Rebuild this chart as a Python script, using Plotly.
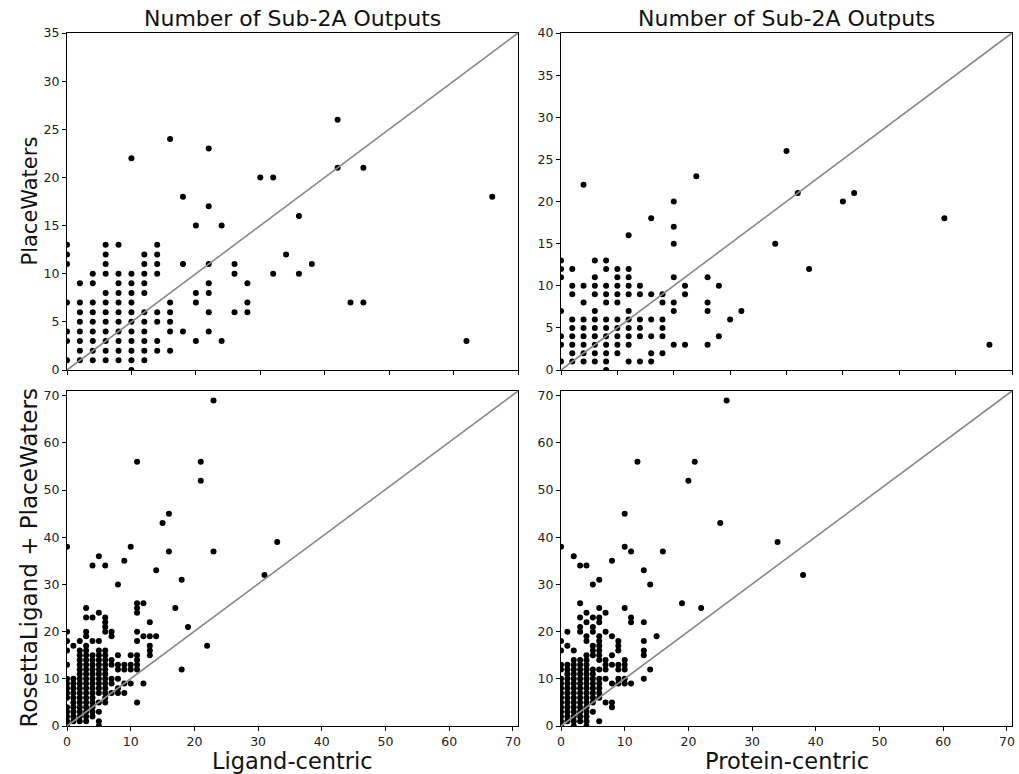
import plotly.graph_objects as go

# ---- data: column x-value -> list of y-values ----
tl_cols = {
    0: [13, 12, 11, 7, 4, 3, 1],
    2: [9, 7, 6, 5, 4, 3, 2, 1],
    4: [10, 9, 7, 6, 5, 4, 3, 2, 1],
    6: [13, 12, 11, 10, 8, 7, 6, 5, 4, 3, 2, 1],
    8: [13, 10, 9, 8, 7, 6, 5, 4, 3, 2, 1],
    10: [22, 10, 9, 8, 7, 6, 5, 4, 3, 2, 1, 0],
    12: [12, 11, 10, 9, 8, 6, 5, 4, 3, 2, 1],
    14: [13, 12, 11, 10, 6, 5, 3, 2],
    16: [24, 7, 6, 5, 4, 2],
    18: [18, 11, 4],
    20: [15, 8, 7, 3],
    22: [23, 17, 11, 9, 8, 6, 4],
    24: [15, 3],
    26: [11, 10, 6],
    28: [9, 7, 6],
    30: [20],
    32: [20, 10],
    34: [12],
    36: [16, 10],
    38: [11],
    42: [26, 21],
    44: [7],
    46: [21, 7],
    62: [3],
    66: [18],
}

tr_cols = {
    0: [13, 12, 11, 7, 4, 3, 1],
    2: [12, 10, 9, 6, 5, 4, 3, 2, 1],
    4: [22, 10, 8, 6, 5, 4, 3, 2, 1],
    6: [13, 11, 10, 9, 7, 6, 5, 4, 3, 2, 1],
    8: [13, 12, 10, 9, 8, 6, 5, 4, 3, 2, 1, 0],
    10: [12, 11, 10, 9, 8, 6, 5, 4, 3, 2],
    12: [16, 12, 11, 10, 9, 7, 6, 5, 4, 3, 1],
    14: [10, 9, 6, 5, 4, 1],
    16: [18, 9, 6, 4, 2, 1],
    18: [9, 8, 6, 5, 4, 2],
    20: [20, 17, 15, 11, 8, 7, 3],
    22: [10, 9, 3],
    24: [23],
    26: [11, 8, 7, 3],
    28: [10, 4],
    30: [6],
    32: [7],
    38: [15],
    40: [26],
    42: [21],
    44: [12],
    50: [20],
    52: [21],
    68: [18],
    76: [3],
}

bl_cols = {
    0: [38, 20, 18, 16, 13, 10, 9, 8, 7, 6, 4, 3, 2, 1, 0],
    1: [17, 10, 9, 8, 7, 6, 5, 4, 3, 2, 1],
    2: [18, 16, 15, 14, 13, 12, 11, 10, 9, 8, 7, 6, 5, 4, 3, 2, 1],
    3: [25, 23, 20, 19, 17, 16, 15, 14, 13, 12, 11, 10, 9, 8, 7, 6, 5, 4, 3, 2, 1],
    4: [34, 23, 18, 15, 14, 13, 12, 11, 10, 9, 8, 7, 6, 5, 4, 3, 2],
    5: [36, 24, 18, 16, 15, 14, 13, 12, 11, 10, 9, 8, 7, 5, 3, 1, 0],
    6: [34, 23, 22, 21, 20, 16, 15, 14, 13, 12, 11, 10, 9, 8, 7, 6, 5],
    7: [20, 19, 14, 13, 10, 9, 7],
    8: [30, 15, 13, 12, 10, 8, 7],
    9: [35, 13, 12, 9, 7],
    10: [38, 15, 13, 12, 9],
    11: [56, 26, 25, 24, 20, 18, 15, 14, 13, 12, 5],
    12: [26, 19, 9],
    13: [22, 19, 17, 16, 15],
    14: [33, 19],
    15: [43],
    16: [45, 37],
    17: [25],
    18: [31, 12],
    19: [21],
    21: [56, 52],
    22: [17],
    23: [69, 37],
    31: [32],
    33: [39],
}

br_cols = {
    0: [38, 18, 16, 13, 12, 10, 9, 8, 7, 6, 5, 4, 3, 2, 1, 0],
    1: [20, 17, 13, 12, 11, 10, 9, 8, 7, 6, 5, 4, 3, 2, 1],
    2: [36, 16, 14, 13, 12, 11, 10, 9, 8, 7, 6, 5, 4, 3, 2, 1, 0],
    3: [34, 26, 23, 21, 20, 14, 13, 12, 11, 10, 9, 8, 7, 6, 5, 4, 3, 2, 1],
    4: [34, 24, 22, 19, 18, 15, 14, 13, 12, 11, 10, 9, 8, 7, 6, 5, 4, 3, 2, 1, 0],
    5: [30, 23, 21, 20, 17, 16, 15, 12, 11, 10, 9, 8, 7, 6, 5, 3],
    6: [31, 25, 23, 22, 19, 18, 17, 16, 15, 14, 12, 10, 9, 8, 7, 6, 1],
    7: [24, 20, 14, 13, 12, 10, 5],
    8: [35, 19, 15, 13, 9, 5, 4],
    9: [18, 17, 16, 13, 12, 10, 9],
    10: [45, 38, 25, 14, 13, 12, 10, 9],
    11: [37, 23, 22, 9],
    12: [56],
    13: [33, 22, 18, 16, 15, 10],
    14: [30, 12],
    15: [19],
    16: [37],
    19: [26],
    20: [52],
    21: [56],
    22: [25],
    25: [43],
    26: [69],
    34: [39],
    38: [32],
}

col_title = "Number of Sub-2A Outputs"
x_titles = ["Ligand-centric", "Protein-centric"]
y_titles = ["PlaceWaters", "RosettaLigand + PlaceWaters"]


def flatten(cols):
    xs, ys = [], []
    for xv, yl in cols.items():
        for yv in yl:
            xs.append(xv)
            ys.append(yv)
    return xs, ys


W, H = 1019, 774
dom_x = [[67 / W, 518 / W], [561 / W, 1012 / W]]
dom_y_top = [1 - 370 / H, 1 - 33 / H]
dom_y_bot = [1 - 726 / H, 1 - 391 / H]

panels = [
    (tl_cols, "x", "y", dom_x[0], dom_y_top, [0, 70], [0, 35], 5, False),
    (tr_cols, "x2", "y2", dom_x[1], dom_y_top, [0, 80], [0, 40], 5, False),
    (bl_cols, "x3", "y3", dom_x[0], dom_y_bot, [0, 70.8], [0, 71], 10, True),
    (br_cols, "x4", "y4", dom_x[1], dom_y_bot, [0, 70.8], [0, 71], 10, True),
]

fig = go.Figure()
font_family = "DejaVu Sans"
shapes = []
for i, (cols, xa, ya, dx, dy, xr, yr, ydt, showx) in enumerate(panels):
    xs, ys = flatten(cols)
    fig.add_trace(go.Scatter(
        x=xs, y=ys, mode="markers", xaxis=xa, yaxis=ya,
        marker=dict(color="black", size=6, line=dict(width=0)),
        cliponaxis=True, showlegend=False, hoverinfo="x+y",
    ))
    suffix = "" if i == 0 else str(i + 1)
    common = dict(showline=True, linecolor="black", linewidth=1, mirror=True,
                  ticks="outside", ticklen=4, tickwidth=1, tickcolor="black",
                  showgrid=False, zeroline=False, automargin=False,
                  tickfont=dict(family=font_family, size=12.5, color="#222222"))
    fig.layout["xaxis" + suffix] = dict(domain=dx, range=xr, dtick=10, tick0=0,
                                        showticklabels=showx,
                                        anchor="y" + suffix, **common)
    fig.layout["yaxis" + suffix] = dict(domain=dy, range=yr, dtick=ydt, tick0=0,
                                        anchor="x" + suffix, **common)
    shapes.append(dict(type="line", xref=xa + " domain", yref=ya + " domain",
                       x0=0, y0=0, x1=1, y1=1,
                       line=dict(color="#8a8a8a", width=1.6), layer="above"))

annotations = []
for j in range(2):
    cx = (dom_x[j][0] + dom_x[j][1]) / 2
    annotations.append(dict(text=col_title, xref="paper", yref="paper",
                            x=cx, y=1 - 18 / H, showarrow=False,
                            xanchor="center", yanchor="middle",
                            font=dict(family=font_family, size=22, color="#111111")))
    annotations.append(dict(text=x_titles[j], xref="paper", yref="paper",
                            x=cx, y=1 - 761 / H, showarrow=False,
                            xanchor="center", yanchor="middle",
                            font=dict(family=font_family, size=22.5, color="#111111")))
annotations.append(dict(text=y_titles[0], xref="paper", yref="paper",
                        x=30 / W, y=(dom_y_top[0] + dom_y_top[1]) / 2,
                        textangle=-90, showarrow=False, xanchor="center", yanchor="middle",
                        font=dict(family=font_family, size=21, color="#111111")))
annotations.append(dict(text=y_titles[1], xref="paper", yref="paper",
                        x=28 / W, y=(dom_y_bot[0] + dom_y_bot[1]) / 2,
                        textangle=-90, showarrow=False, xanchor="center", yanchor="middle",
                        font=dict(family=font_family, size=23, color="#111111")))

fig.update_layout(
    width=W, height=H,
    margin=dict(l=0, r=0, t=0, b=0, autoexpand=False),
    paper_bgcolor="white", plot_bgcolor="white",
    shapes=shapes, annotations=annotations,
    font=dict(family=font_family, color="black"),
)

fig.write_html("out.html",
               config={"displayModeBar": False},
               post_script="document.body.style.margin='0';document.body.style.padding='0';")
